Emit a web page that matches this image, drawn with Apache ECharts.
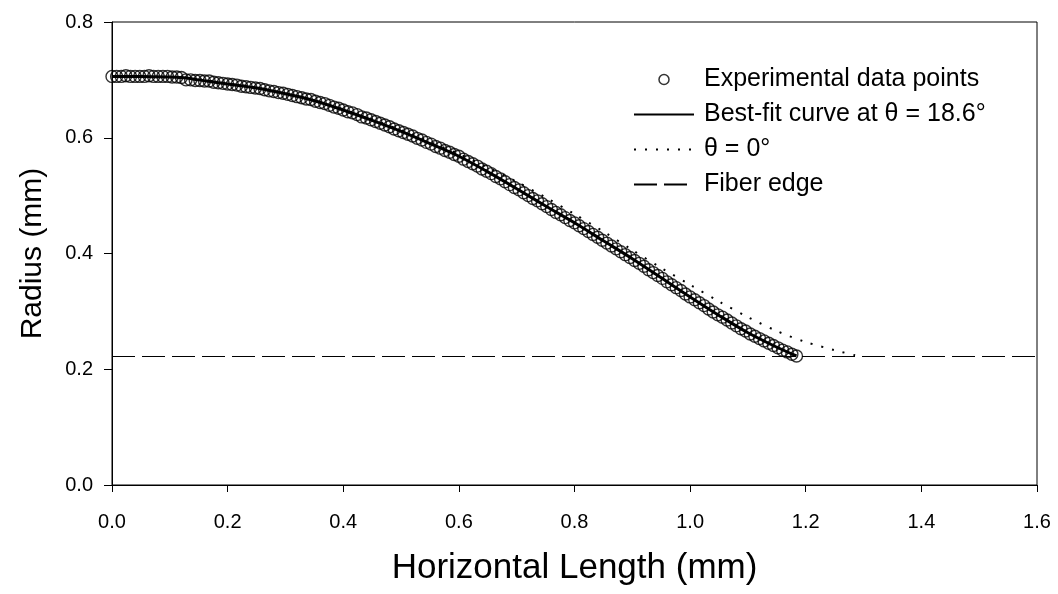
<!DOCTYPE html>
<html>
<head>
<meta charset="utf-8">
<script src="https://cdn.jsdelivr.net/npm/echarts@6/dist/echarts.min.js"></script>
<style>
html,body{margin:0;padding:0;background:#fff;}
#chart{width:1058px;height:594px;}
</style>
</head>
<body>
<div id="chart"></div>
<script>
// Experimental data points (horizontal length mm, radius mm)
var expX = [0.000,0.008,0.016,0.024,0.032,0.040,0.048,0.056,0.064,0.072,
  0.080,0.088,0.096,0.104,0.112,0.120,0.128,0.136,0.144,0.152,
  0.160,0.168,0.176,0.184,0.192,0.200,0.208,0.216,0.224,0.232,
  0.240,0.248,0.256,0.264,0.272,0.280,0.288,0.296,0.304,0.312,
  0.320,0.328,0.336,0.344,0.352,0.360,0.368,0.376,0.384,0.392,
  0.400,0.408,0.416,0.424,0.432,0.440,0.448,0.456,0.464,0.472,
  0.480,0.488,0.496,0.504,0.512,0.520,0.528,0.536,0.544,0.552,
  0.560,0.568,0.576,0.584,0.592,0.600,0.608,0.616,0.624,0.632,
  0.640,0.648,0.656,0.664,0.672,0.680,0.688,0.696,0.704,0.712,
  0.720,0.728,0.736,0.744,0.752,0.760,0.768,0.776,0.784,0.792,
  0.800,0.808,0.816,0.824,0.832,0.840,0.848,0.856,0.864,0.872,
  0.880,0.888,0.896,0.904,0.912,0.920,0.928,0.936,0.944,0.952,
  0.960,0.968,0.976,0.984,0.992,1.000,1.008,1.016,1.024,1.032,
  1.040,1.048,1.056,1.064,1.072,1.080,1.088,1.096,1.104,1.112,
  1.120,1.128,1.136,1.144,1.152,1.160,1.168,1.176,1.184];
var expY = [0.706,0.706,0.706,0.707,0.706,0.706,0.706,0.706,0.707,0.706,
  0.706,0.706,0.706,0.705,0.705,0.704,0.700,0.700,0.699,0.699,
  0.698,0.698,0.696,0.695,0.694,0.693,0.692,0.691,0.689,0.688,
  0.687,0.686,0.685,0.683,0.681,0.680,0.678,0.677,0.675,0.673,
  0.671,0.669,0.667,0.666,0.663,0.661,0.659,0.656,0.653,0.651,
  0.648,0.645,0.643,0.640,0.636,0.634,0.631,0.628,0.625,0.622,
  0.619,0.615,0.612,0.609,0.606,0.603,0.599,0.596,0.592,0.589,
  0.585,0.582,0.578,0.575,0.571,0.568,0.563,0.559,0.555,0.551,
  0.546,0.542,0.538,0.533,0.529,0.524,0.519,0.514,0.510,0.505,
  0.500,0.495,0.491,0.486,0.481,0.476,0.471,0.467,0.462,0.457,
  0.453,0.448,0.443,0.438,0.433,0.428,0.423,0.418,0.413,0.408,
  0.403,0.398,0.393,0.388,0.383,0.378,0.372,0.367,0.362,0.357,
  0.351,0.346,0.341,0.336,0.330,0.325,0.320,0.315,0.310,0.304,
  0.299,0.294,0.290,0.285,0.280,0.275,0.270,0.266,0.261,0.257,
  0.253,0.249,0.245,0.241,0.237,0.233,0.230,0.226,0.223];

// Best-fit curve at theta = 18.6 deg
var fitX = [0.00,0.05,0.10,0.12,0.15,0.20,0.25,0.30,0.35,0.40,0.45,0.50,0.55,0.60,0.65,0.70,0.75,0.80,0.85,0.90,0.95,1.00,1.05,1.10,1.15,1.184];
var fitY = [0.706,0.706,0.705,0.704,0.700,0.693,0.686,0.676,0.664,0.648,0.630,0.611,0.590,0.568,0.541,0.512,0.482,0.453,0.422,0.391,0.358,0.325,0.293,0.263,0.238,0.223];

// theta = 0 deg curve
var zeroX = [0.00,0.10,0.20,0.30,0.40,0.50,0.60,0.65,0.70,0.75,0.80,0.85,0.90,0.95,1.00,1.05,1.10,1.15,1.20,1.25,1.29];
var zeroY = [0.706,0.705,0.694,0.677,0.649,0.613,0.572,0.549,0.524,0.497,0.468,0.438,0.406,0.375,0.346,0.317,0.290,0.266,0.247,0.233,0.223];

// Fiber edge
var edgeX = [0.0, 1.6];
var edgeY = [0.222, 0.222];

var xTicks = ['0.0','0.2','0.4','0.6','0.8','1.0','1.2','1.4','1.6'];
var yTicks = ['0.0','0.2','0.4','0.6','0.8'];

var legendNames = ['Experimental data points','Best-fit curve at \u03b8 = 18.6\u00b0','\u03b8 = 0\u00b0','Fiber edge'];

function pairs(xs, ys){ return xs.map(function(x,i){ return [x, ys[i]]; }); }

var FONT = 'Liberation Sans, Arial, sans-serif';
var chart = echarts.init(document.getElementById('chart'), null, {renderer:'canvas'});
chart.setOption({
  animation:false,
  backgroundColor:'#fff',
  grid:{left:112,right:21,top:22,bottom:109,show:true,borderColor:'#000',borderWidth:1,containLabel:false},
  legend:{
    orient:'vertical', left:628, top:62, itemGap:10, itemWidth:60, itemHeight:10,
    textStyle:{fontFamily:FONT,fontSize:25,color:'#000',lineHeight:25,padding:[0,0,0,5]},
    data:[
      {name:legendNames[0], itemStyle:{color:'#fff',borderColor:'#000',borderWidth:1.5}},
      {name:legendNames[1], itemStyle:{opacity:0}},
      {name:legendNames[2], itemStyle:{opacity:0}},
      {name:legendNames[3], itemStyle:{opacity:0}}
    ]
  },
  xAxis:{
    type:'value', min:0, max:1.6, interval:0.2,
    name:'Horizontal Length (mm)', nameLocation:'middle', nameGap:66,
    nameTextStyle:{fontFamily:FONT,fontSize:35,color:'#000'},
    axisLine:{show:true,onZero:false,lineStyle:{color:'#000',width:1}},
    axisTick:{show:true,inside:false,length:7,lineStyle:{color:'#000'}},
    axisLabel:{fontFamily:FONT,fontSize:20,color:'#000',margin:27,
      formatter:function(v){ var i=Math.round(v/0.2); return xTicks[i]; }},
    splitLine:{show:false}
  },
  yAxis:{
    type:'value', min:0, max:0.8, interval:0.2,
    name:'Radius (mm)', nameLocation:'middle', nameGap:64, nameRotate:90,
    nameTextStyle:{fontFamily:FONT,fontSize:30,color:'#000'},
    axisLine:{show:true,onZero:false,lineStyle:{color:'#000',width:1}},
    axisTick:{show:true,inside:false,length:8,lineStyle:{color:'#000'}},
    axisLabel:{fontFamily:FONT,fontSize:20,color:'#000',margin:19,
      formatter:function(v){ var i=Math.round(v/0.2); return yTicks[i]; }},
    splitLine:{show:false}
  },
  series:[
    {name:legendNames[3], type:'line', data:pairs(edgeX,edgeY), symbol:'none', color:'#000',
     lineStyle:{color:'#000',width:1.2,type:[23,7]}, z:1},
    {name:legendNames[2], type:'line', data:pairs(zeroX,zeroY), symbol:'none', smooth:0.3, color:'#000',
     lineStyle:{color:'#000',width:2,type:[2,9]}, z:2},
    {name:legendNames[1], type:'line', data:pairs(fitX,fitY), symbol:'none', smooth:0.3, color:'#000',
     lineStyle:{color:'#000',width:3}, z:3},
    {name:legendNames[0], type:'scatter', data:pairs(expX,expY), symbol:'circle', symbolSize:12, color:'#000',
     itemStyle:{color:'rgba(255,255,255,0)',borderColor:'#000',borderWidth:1.4}, z:4}
  ]
});
</script>
</body>
</html>
